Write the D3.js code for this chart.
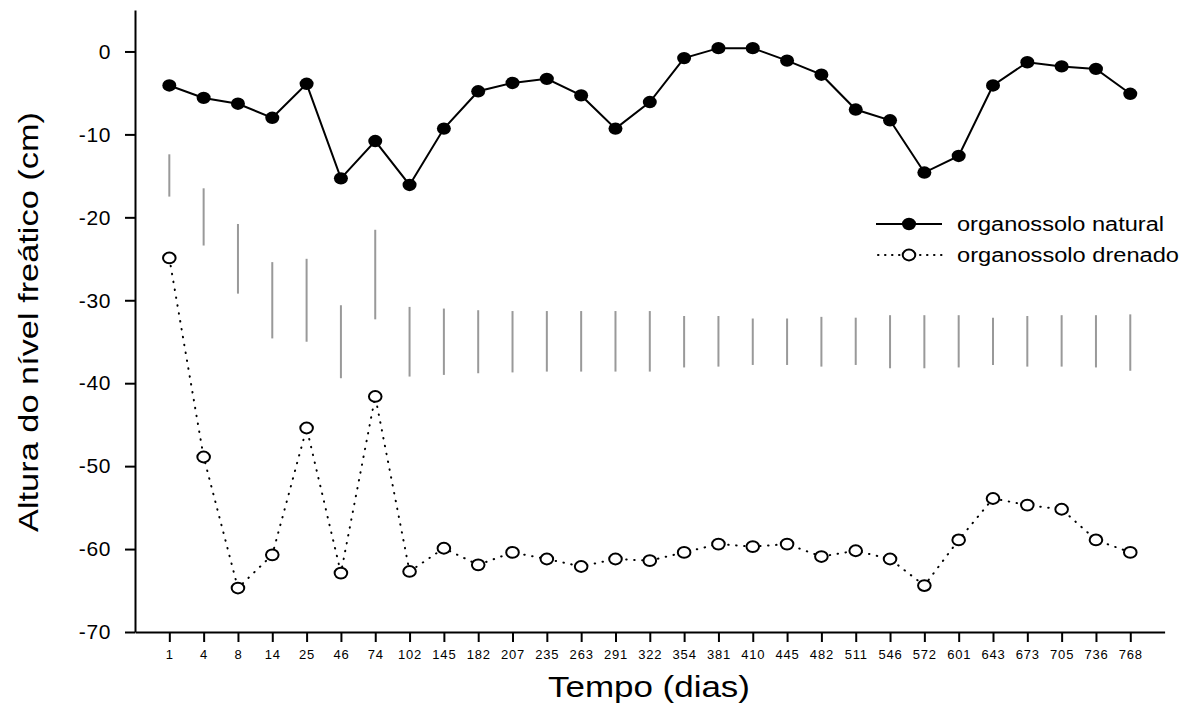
<!DOCTYPE html>
<html>
<head>
<meta charset="utf-8">
<script src="https://cdn.jsdelivr.net/npm/d3@7"></script>
<style>
  body { margin: 0; background: #fff; }
  svg { display: block; font-family: "Liberation Sans", Arial, sans-serif; }
</style>
</head>
<body>
<svg id="chart"></svg>
<script>
const days = ["1","4","8","14","25","46","74","102","145","182","207","235","263","291","322","354","381","410","445","482","511","546","572","601","643","673","705","736","768"];

const natural = [-4.1,-5.6,-6.3,-8.0,-3.9,-15.3,-10.8,-16.1,-9.3,-4.8,-3.8,-3.3,-5.3,-9.3,-6.1,-0.8,0.4,0.4,-1.1,-2.8,-7.0,-8.3,-14.6,-12.6,-4.1,-1.3,-1.8,-2.1,-5.1];

const drenado = [-24.9,-48.9,-64.7,-60.7,-45.4,-62.9,-41.6,-62.7,-59.9,-61.9,-60.4,-61.2,-62.1,-61.2,-61.4,-60.4,-59.4,-59.7,-59.4,-60.9,-60.2,-61.2,-64.4,-58.9,-53.9,-54.7,-55.2,-58.9,-60.4];

// gray vertical ranges (top, bottom)
const rangeTop = [-12.4,-16.5,-20.8,-25.4,-25.0,-30.6,-21.5,-30.8,-31.0,-31.2,-31.3,-31.3,-31.3,-31.3,-31.3,-31.9,-31.9,-32.2,-32.2,-32.0,-32.1,-31.8,-31.8,-31.8,-32.1,-31.9,-31.8,-31.8,-31.7];
const rangeBottom = [-17.5,-23.4,-29.2,-34.6,-35.0,-39.4,-32.3,-39.2,-39.0,-38.8,-38.7,-38.6,-38.6,-38.6,-38.6,-38.1,-38.0,-37.8,-37.8,-38.0,-37.8,-38.2,-38.2,-38.1,-37.8,-38.0,-38.0,-38.1,-38.5];

const yTicks = [0,-10,-20,-30,-40,-50,-60,-70];

const width = 1190;
const height = 717;

const svg = d3.select("#chart")
    .attr("width", width)
    .attr("height", height);

const x = d3.scaleLinear().domain([0, 30]).range([135, 1164.6]);
const y = d3.scaleLinear().domain([-70, 5]).range([632, 10]);

// axes
const yAxis = svg.append("g")
    .attr("transform", "translate(135,0)")
    .call(d3.axisLeft(y).tickValues(yTicks).tickFormat(d => String(d))
        .tickSize(10).tickSizeOuter(0).tickPadding(14));
yAxis.selectAll("text").attr("font-size", 21).attr("letter-spacing", 0.6)
    .attr("font-family", "Liberation Sans, Arial, sans-serif").attr("fill", "#000");

const xAxis = svg.append("g")
    .attr("transform", "translate(0,632)")
    .call(d3.axisBottom(x).tickValues(d3.range(1, days.length + 1)).tickFormat(i => days[i - 1])
        .tickSize(10).tickSizeOuter(0).tickPadding(8));
xAxis.selectAll("text").attr("font-size", 13).attr("letter-spacing", 0.8)
    .attr("font-family", "Liberation Sans, Arial, sans-serif").attr("fill", "#000");

svg.selectAll(".domain, .tick line").attr("stroke", "#000").attr("stroke-width", 2);

// gray ranges
svg.selectAll(".range")
    .data(days)
    .enter()
    .append("line")
    .attr("class", "range")
    .attr("x1", (d, i) => x(i + 1))
    .attr("x2", (d, i) => x(i + 1))
    .attr("y1", (d, i) => y(rangeTop[i]))
    .attr("y2", (d, i) => y(rangeBottom[i]))
    .attr("stroke", "#999")
    .attr("stroke-width", 2);

const line = d3.line().x((d, i) => x(i + 1)).y(d => y(d));

// drained series, dotted
svg.append("path")
    .attr("d", line(drenado))
    .attr("fill", "none")
    .attr("stroke", "#000")
    .attr("stroke-width", 2)
    .attr("stroke-linecap", "round")
    .attr("stroke-dasharray", "0.5,7.5");

svg.selectAll(".open")
    .data(drenado)
    .enter()
    .append("ellipse")
    .attr("class", "open")
    .attr("cx", (d, i) => x(i + 1))
    .attr("cy", d => y(d))
    .attr("rx", 6.3)
    .attr("ry", 5.4)
    .attr("fill", "#fff")
    .attr("stroke", "#000")
    .attr("stroke-width", 2);

// natural series, solid
svg.append("path")
    .attr("d", line(natural))
    .attr("fill", "none")
    .attr("stroke", "#000")
    .attr("stroke-width", 2);

svg.selectAll(".dot")
    .data(natural)
    .enter()
    .append("ellipse")
    .attr("class", "dot")
    .attr("cx", (d, i) => x(i + 1))
    .attr("cy", d => y(d))
    .attr("rx", 7)
    .attr("ry", 6.2)
    .attr("fill", "#000");

// legend
const legend = svg.append("g");
const rows = [
    { label: "organossolo natural", y: 224, filled: true, len: 207 },
    { label: "organossolo drenado", y: 255, filled: false, len: 222 }
];
rows.forEach(r => {
    const ln = legend.append("line")
        .attr("x1", 876).attr("x2", 942)
        .attr("y1", r.y).attr("y2", r.y)
        .attr("stroke", "#000").attr("stroke-width", 2);
    if (!r.filled) ln.attr("stroke-dasharray", "0.5,6.5").attr("stroke-linecap", "round").attr("x1", 878);
    legend.append("ellipse")
        .attr("cx", 909).attr("cy", r.y)
        .attr("rx", r.filled ? 7 : 6.3).attr("ry", r.filled ? 6.2 : 5.4)
        .attr("fill", r.filled ? "#000" : "#fff")
        .attr("stroke", "#000").attr("stroke-width", r.filled ? 0 : 2);
    legend.append("text")
        .attr("x", 957).attr("y", r.y + 7)
        .attr("font-size", 20)
        .attr("textLength", r.len)
        .attr("lengthAdjust", "spacingAndGlyphs")
        .text(r.label);
});

// titles
svg.append("text")
    .attr("x", 649).attr("y", 697)
    .attr("text-anchor", "middle")
    .attr("font-size", 30)
    .attr("textLength", 202)
    .attr("lengthAdjust", "spacingAndGlyphs")
    .text("Tempo (dias)");

svg.append("text")
    .attr("transform", "translate(38,322) rotate(-90)")
    .attr("text-anchor", "middle")
    .attr("font-size", 28)
    .attr("textLength", 420)
    .attr("lengthAdjust", "spacingAndGlyphs")
    .text("Altura do nível freático (cm)");
</script>
</body>
</html>
